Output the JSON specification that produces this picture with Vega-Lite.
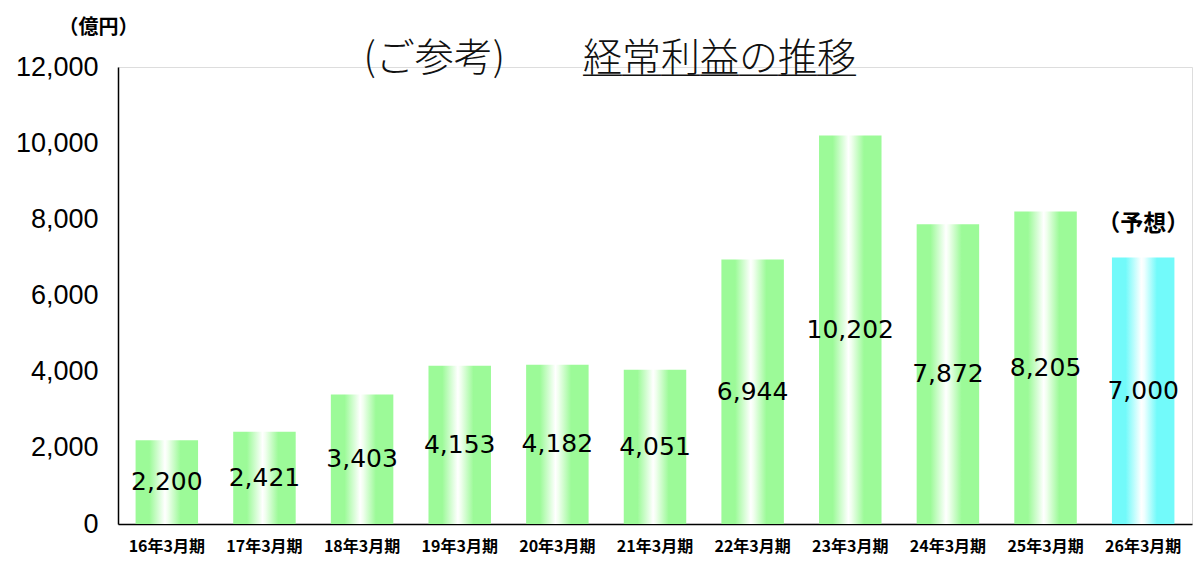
{
  "$schema": "https://vega.github.io/schema/vega-lite/v6.json",
  "description": "経常利益の推移",
  "autosize": "none",
  "width": 1074,
  "height": 457,
  "padding": {"left": 118, "top": 67, "right": 8, "bottom": 37},
  "background": "white",
  "title": {
    "text": "(ご参考)　　経常利益の推移",
    "subtitle": "＿＿＿＿＿＿＿",
    "frame": "group",
    "anchor": "end",
    "dx": -336,
    "offset": -62,
    "font": "Noto Sans CJK JP",
    "fontSize": 39,
    "fontWeight": 300,
    "color": "#111",
    "subtitleFont": "Noto Sans CJK JP",
    "subtitleFontSize": 39,
    "subtitleFontWeight": 300,
    "subtitleColor": "#111",
    "subtitlePadding": -39
  },
  "data": {
    "values": [
      {"period": "16年3月期", "value": 2200, "forecast": false, "note": ""},
      {"period": "17年3月期", "value": 2421, "forecast": false, "note": ""},
      {"period": "18年3月期", "value": 3403, "forecast": false, "note": ""},
      {"period": "19年3月期", "value": 4153, "forecast": false, "note": ""},
      {"period": "20年3月期", "value": 4182, "forecast": false, "note": ""},
      {"period": "21年3月期", "value": 4051, "forecast": false, "note": ""},
      {"period": "22年3月期", "value": 6944, "forecast": false, "note": ""},
      {"period": "23年3月期", "value": 10202, "forecast": false, "note": ""},
      {"period": "24年3月期", "value": 7872, "forecast": false, "note": ""},
      {"period": "25年3月期", "value": 8205, "forecast": false, "note": ""},
      {"period": "26年3月期", "value": 7000, "forecast": true, "note": "（予想）"}
    ]
  },
  "encoding": {
    "x": {
      "field": "period",
      "type": "nominal",
      "sort": null,
      "scale": {"paddingInner": 0.36, "paddingOuter": 0.18},
      "axis": {
        "title": null,
        "labelAngle": 0,
        "ticks": false,
        "labelPadding": 14,
        "labelFont": "Noto Sans CJK JP",
        "labelFontSize": 16,
        "labelFontWeight": "bold",
        "labelColor": "#000",
        "domainColor": "#000",
        "domainWidth": 1.5
      }
    }
  },
  "layer": [
    {
      "mark": {"type": "bar"},
      "encoding": {
        "y": {
          "field": "value",
          "type": "quantitative",
          "scale": {"domain": [0, 12000], "nice": false},
          "axis": {
            "values": [0, 2000, 4000, 6000, 8000, 10000, 12000],
            "format": ",d",
            "grid": false,
            "ticks": false,
            "labelPadding": 20,
            "labelFont": "Liberation Sans",
            "labelFontSize": 27,
            "labelColor": "#000",
            "domainColor": "#000",
            "domainWidth": 1.5,
            "title": "（億円）",
            "titleAngle": 0,
            "titleAlign": "center",
            "titleBaseline": "middle",
            "titleX": -20,
            "titleY": -40,
            "titleFont": "Noto Sans CJK JP",
            "titleFontSize": 20,
            "titleFontWeight": "bold",
            "titleColor": "#000"
          }
        },
        "color": {
          "condition": {
            "test": "datum.forecast",
            "value": {
              "gradient": "linear",
              "x1": 0, "y1": 0, "x2": 1, "y2": 0,
              "stops": [
                {"offset": 0, "color": "#72FAFA"},
                {"offset": 0.22, "color": "#72FAFA"},
                {"offset": 0.47, "color": "#FFFFFF"},
                {"offset": 0.52, "color": "#EFFFFF"},
                {"offset": 0.72, "color": "#72FAFA"},
                {"offset": 1, "color": "#72FAFA"}
              ]
            }
          },
          "value": {
            "gradient": "linear",
            "x1": 0, "y1": 0, "x2": 1, "y2": 0,
            "stops": [
              {"offset": 0, "color": "#9CFA98"},
              {"offset": 0.22, "color": "#9CFA98"},
              {"offset": 0.47, "color": "#FFFFFF"},
              {"offset": 0.52, "color": "#F0FFEE"},
              {"offset": 0.72, "color": "#9CFA98"},
              {"offset": 1, "color": "#9CFA98"}
            ]
          }
        }
      }
    },
    {
      "mark": {"type": "text", "font": "DejaVu Sans", "fontSize": 25, "color": "#000", "baseline": "middle"},
      "encoding": {
        "y": {
          "field": "value",
          "type": "quantitative",
          "scale": {"domain": [0, 24000], "nice": false},
          "axis": null
        },
        "text": {"field": "value", "type": "quantitative", "format": ","}
      }
    },
    {
      "mark": {"type": "text", "font": "Noto Sans CJK JP", "fontSize": 23, "fontWeight": "bold", "color": "#000", "baseline": "middle", "dy": -33},
      "encoding": {
        "y": {
          "field": "value",
          "type": "quantitative",
          "scale": {"domain": [0, 12000], "nice": false},
          "axis": null
        },
        "text": {"field": "note", "type": "nominal"}
      }
    }
  ],
  "resolve": {"scale": {"y": "independent"}}
}
